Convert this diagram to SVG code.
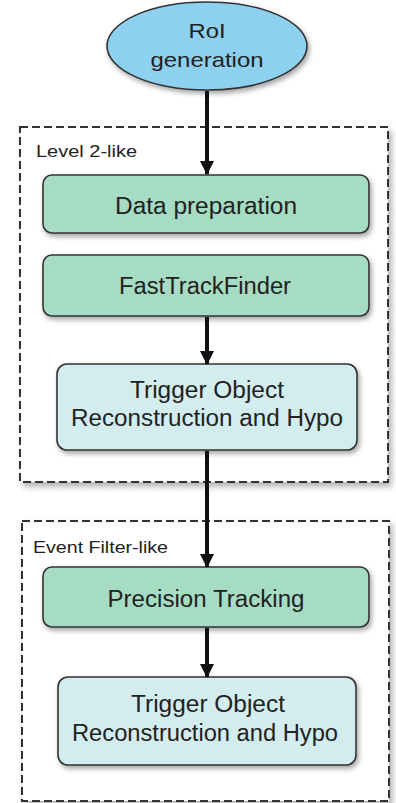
<svg xmlns="http://www.w3.org/2000/svg" width="396" height="803" viewBox="0 0 396 803">
<defs>
<filter id="sh" x="-10%" y="-10%" width="125%" height="130%">
<feDropShadow dx="2" dy="3" stdDeviation="2.5" flood-color="#000" flood-opacity="0.35"/>
</filter>
<filter id="shb" x="-5%" y="-5%" width="115%" height="115%">
<feDropShadow dx="3" dy="4" stdDeviation="3" flood-color="#000" flood-opacity="0.3"/>
</filter>
<marker id="ah" markerUnits="userSpaceOnUse" markerWidth="14" markerHeight="14" refX="13" refY="7" orient="auto" viewBox="0 0 14 14">
<path d="M0,0 L14,7 L0,14 Z" fill="#111"/>
</marker>
</defs>
<style>
text{font-family:"Liberation Sans",Arial,sans-serif;fill:#222;text-anchor:middle}
.lbl{text-anchor:start;font-size:17px}
.grp{fill:#fff;stroke:#333;stroke-width:2;stroke-dasharray:8 4}
.green{fill:#a6dcc4;stroke:#333;stroke-width:1.6}
.cyan{fill:#d3ecee;stroke:#333;stroke-width:1.6}
.oval{fill:#8dd0ef;stroke:#333;stroke-width:1.6}
.t{font-size:23px}
.conn line{stroke:#111;stroke-width:4}
</style>

<g id="group-level2">
<rect class="grp" x="20" y="127" width="368" height="355" filter="url(#shb)"/>
<text class="lbl" x="36" y="157" textLength="101" lengthAdjust="spacingAndGlyphs">Level 2-like</text>
</g>
<g id="group-ef">
<rect class="grp" x="22" y="521" width="367" height="280" filter="url(#shb)"/>
<text class="lbl" x="33" y="553" textLength="135" lengthAdjust="spacingAndGlyphs">Event Filter-like</text>
</g>

<g id="roi">
<ellipse class="oval" cx="207" cy="46" rx="100" ry="44" filter="url(#sh)"/>
<text x="207" y="38" font-size="21" textLength="37" lengthAdjust="spacingAndGlyphs">RoI</text>
<text x="207" y="67" font-size="21" textLength="113" lengthAdjust="spacingAndGlyphs">generation</text>
</g>

<g id="dataprep">
<rect class="green" x="43" y="175" width="326" height="58" rx="9" filter="url(#sh)"/>
<text class="t" x="206" y="214" textLength="182" lengthAdjust="spacingAndGlyphs">Data preparation</text>
</g>

<g id="ftf">
<rect class="green" x="43" y="255" width="326" height="61" rx="9" filter="url(#sh)"/>
<text class="t" x="205" y="294" textLength="172" lengthAdjust="spacingAndGlyphs">FastTrackFinder</text>
</g>

<g id="trig1">
<rect class="cyan" x="57" y="364" width="300" height="86" rx="10" filter="url(#sh)"/>
<text class="t" x="207" y="398" textLength="154" lengthAdjust="spacingAndGlyphs">Trigger Object</text>
<text class="t" x="207" y="426" textLength="272" lengthAdjust="spacingAndGlyphs">Reconstruction and Hypo</text>
</g>

<g id="prectrack">
<rect class="green" x="43" y="567" width="326" height="60" rx="9" filter="url(#sh)"/>
<text class="t" x="206" y="607" textLength="197" lengthAdjust="spacingAndGlyphs">Precision Tracking</text>
</g>

<g id="trig2">
<rect class="cyan" x="58" y="677" width="298" height="88" rx="10" filter="url(#sh)"/>
<text class="t" x="208" y="712" textLength="154" lengthAdjust="spacingAndGlyphs">Trigger Object</text>
<text class="t" x="205" y="741" textLength="266" lengthAdjust="spacingAndGlyphs">Reconstruction and Hypo</text>
</g>

<g id="connectors" class="conn">
<line x1="207" y1="91" x2="207" y2="174" marker-end="url(#ah)"/>
<line x1="207" y1="317" x2="207" y2="364" marker-end="url(#ah)"/>
<line x1="207" y1="451" x2="207" y2="567" marker-end="url(#ah)"/>
<line x1="207" y1="628" x2="207" y2="677" marker-end="url(#ah)"/>
</g>
</svg>
